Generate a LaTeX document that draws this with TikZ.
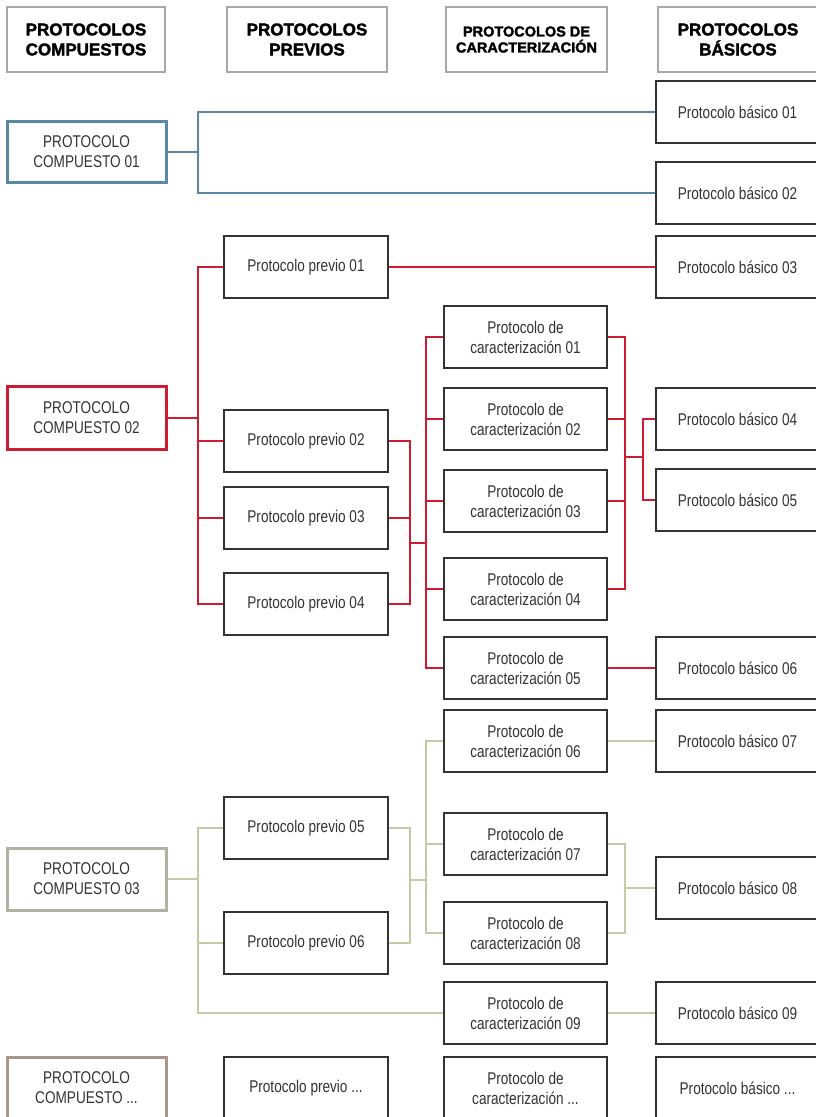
\documentclass[tikz,border=0pt]{standalone}
\usepackage{fontspec}
\setmainfont{Liberation Sans}
\newfontfamily\boxfont[FakeStretch=0.8]{Liberation Sans}
\newfontfamily\headfont[FakeBold=2]{Liberation Sans Bold}
\definecolor{hdrgray}{HTML}{A8A8A8}
\definecolor{boxgray}{HTML}{333333}
\definecolor{textgray}{HTML}{333333}
\definecolor{cblue}{HTML}{5B87A6}
\definecolor{cred}{HTML}{CC1B33}
\definecolor{colive}{HTML}{C6C9A6}
\definecolor{ctaupe}{HTML}{B3B1A1}
\definecolor{cbrown}{HTML}{A8978A}
\begin{document}
\begin{tikzpicture}[x=1pt,y=-1pt,
  hdr/.style={draw=hdrgray, line width=1.4pt, fill=white, minimum height=65pt,
    inner sep=0pt, align=center, text=black},
  hdrbig/.style={hdr, font=\headfont\fontsize{17}{20}\selectfont},
  hdrsmall/.style={hdr, font=\headfont\fontsize{14.5}{16}\selectfont},
  box/.style={draw=boxgray, line width=2pt, fill=white, minimum height=62pt,
    inner sep=0pt, align=center, text=textgray,
    font=\boxfont\fontsize{17}{20}\selectfont},
  colA/.style={box, minimum width=159pt, line width=3pt},
  colB/.style={box, minimum width=164pt},
  colC/.style={box, minimum width=163pt},
  colD/.style={box, minimum width=163pt},
  wire/.style={line width=2pt, line join=miter}
]
\useasboundingbox (0,0) rectangle (815,1117);

% column headings
\node[hdrbig, minimum width=158pt] (h1) at (86,39.5) {PROTOCOLOS\\COMPUESTOS};
\node[hdrbig, minimum width=160pt] (h2) at (307,39.5) {PROTOCOLOS\\PREVIOS};
\node[hdrsmall, minimum width=161pt] (h3) at (526.5,39.5) {PROTOCOLOS DE\\CARACTERIZACIÓN};
\node[hdrbig, minimum width=160pt] (h4) at (738,39.5) {PROTOCOLOS\\BÁSICOS};

% compound protocols
\node[colA, draw=cblue, minimum height=61pt] (comp01) at (86.5,152) {PROTOCOLO\\COMPUESTO 01};
\node[colA, draw=cred, minimum height=63pt] (comp02) at (86.5,418) {PROTOCOLO\\COMPUESTO 02};
\node[colA, draw=ctaupe] (comp03) at (86.5,879) {PROTOCOLO\\COMPUESTO 03};
\node[colA, draw=cbrown] (compX) at (86.5,1088) {PROTOCOLO\\COMPUESTO ...};

% previous protocols
\node[colB] (prev01) at (306,267) {Protocolo previo 01};
\node[colB] (prev02) at (306,441) {Protocolo previo 02};
\node[colB] (prev03) at (306,518) {Protocolo previo 03};
\node[colB] (prev04) at (306,604) {Protocolo previo 04};
\node[colB] (prev05) at (306,828) {Protocolo previo 05};
\node[colB] (prev06) at (306,943) {Protocolo previo 06};
\node[colB] (prevX) at (306,1088) {Protocolo previo ...};

% characterisation protocols
\node[colC] (car01) at (525.5,337) {Protocolo de\\caracterización 01};
\node[colC] (car02) at (525.5,419) {Protocolo de\\caracterización 02};
\node[colC] (car03) at (525.5,501) {Protocolo de\\caracterización 03};
\node[colC] (car04) at (525.5,589) {Protocolo de\\caracterización 04};
\node[colC] (car05) at (525.5,668) {Protocolo de\\caracterización 05};
\node[colC] (car06) at (525.5,741) {Protocolo de\\caracterización 06};
\node[colC] (car07) at (525.5,844) {Protocolo de\\caracterización 07};
\node[colC] (car08) at (525.5,933) {Protocolo de\\caracterización 08};
\node[colC] (car09) at (525.5,1013) {Protocolo de\\caracterización 09};
\node[colC] (carX) at (525.5,1088) {Protocolo de\\caracterización ...};

% basic protocols
\node[colD] (bas01) at (737.5,112) {Protocolo básico 01};
\node[colD] (bas02) at (737.5,193) {Protocolo básico 02};
\node[colD] (bas03) at (737.5,267) {Protocolo básico 03};
\node[colD] (bas04) at (737.5,419) {Protocolo básico 04};
\node[colD] (bas05) at (737.5,500) {Protocolo básico 05};
\node[colD] (bas06) at (737.5,668) {Protocolo básico 06};
\node[colD] (bas07) at (737.5,741) {Protocolo básico 07};
\node[colD] (bas08) at (737.5,888) {Protocolo básico 08};
\node[colD] (bas09) at (737.5,1013) {Protocolo básico 09};
\node[colD] (basX) at (737.5,1088) {Protocolo básico ...};

% bus lines
\coordinate (busA) at (198,0);
\coordinate (busB) at (410,0);
\coordinate (busC) at (426,0);
\coordinate (busD) at (625,0);
\coordinate (busE) at (643,0);
\coordinate (redJ1) at (410,543);
\coordinate (redJ2) at (625,457);
\coordinate (oliveJ1) at (410,880);
\coordinate (oliveJ2) at (625,888);

% compound 01
\begin{scope}[wire, draw=cblue]
  \draw (comp01.east) -- (comp01.east -| busA);
  \draw (bas01.west) -| (bas02.west -| busA) -- (bas02.west);
\end{scope}

% compound 02
\begin{scope}[wire, draw=cred]
  \draw (comp02.east) -- (comp02.east -| busA);
  \draw (prev01.west) -| (prev04.west -| busA) -- (prev04.west);
  \draw (prev02.west) -- (prev02.west -| busA);
  \draw (prev03.west) -- (prev03.west -| busA);
  \draw (prev01.east) -- (bas03.west);
  \draw (prev02.east) -| (prev04.east -| busB) -- (prev04.east);
  \draw (prev03.east) -- (prev03.east -| busB);
  \draw (redJ1) -- (redJ1 -| busC);
  \draw (car01.west) -| (car05.west -| busC) -- (car05.west);
  \draw (car02.west) -- (car02.west -| busC);
  \draw (car03.west) -- (car03.west -| busC);
  \draw (car04.west) -- (car04.west -| busC);
  \draw (car01.east) -| (car04.east -| busD) -- (car04.east);
  \draw (car02.east) -- (car02.east -| busD);
  \draw (car03.east) -- (car03.east -| busD);
  \draw (redJ2) -- (redJ2 -| busE);
  \draw (bas04.west) -| (bas05.west -| busE) -- (bas05.west);
  \draw (car05.east) -- (bas06.west);
\end{scope}

% compound 03
\begin{scope}[wire, draw=colive]
  \draw (comp03.east) -- (comp03.east -| busA);
  \draw (prev05.west) -| (car09.west -| busA) -- (car09.west);
  \draw (prev06.west) -- (prev06.west -| busA);
  \draw (prev05.east) -| (prev06.east -| busB) -- (prev06.east);
  \draw (oliveJ1) -- (oliveJ1 -| busC);
  \draw (car06.west) -| (car08.west -| busC) -- (car08.west);
  \draw (car07.west) -- (car07.west -| busC);
  \draw (car06.east) -- (bas07.west);
  \draw (car07.east) -| (car08.east -| busD) -- (car08.east);
  \draw (bas08.west) -- (bas08.west -| busD);
  \draw (car09.east) -- (bas09.west);
\end{scope}
\end{tikzpicture}
\end{document}
